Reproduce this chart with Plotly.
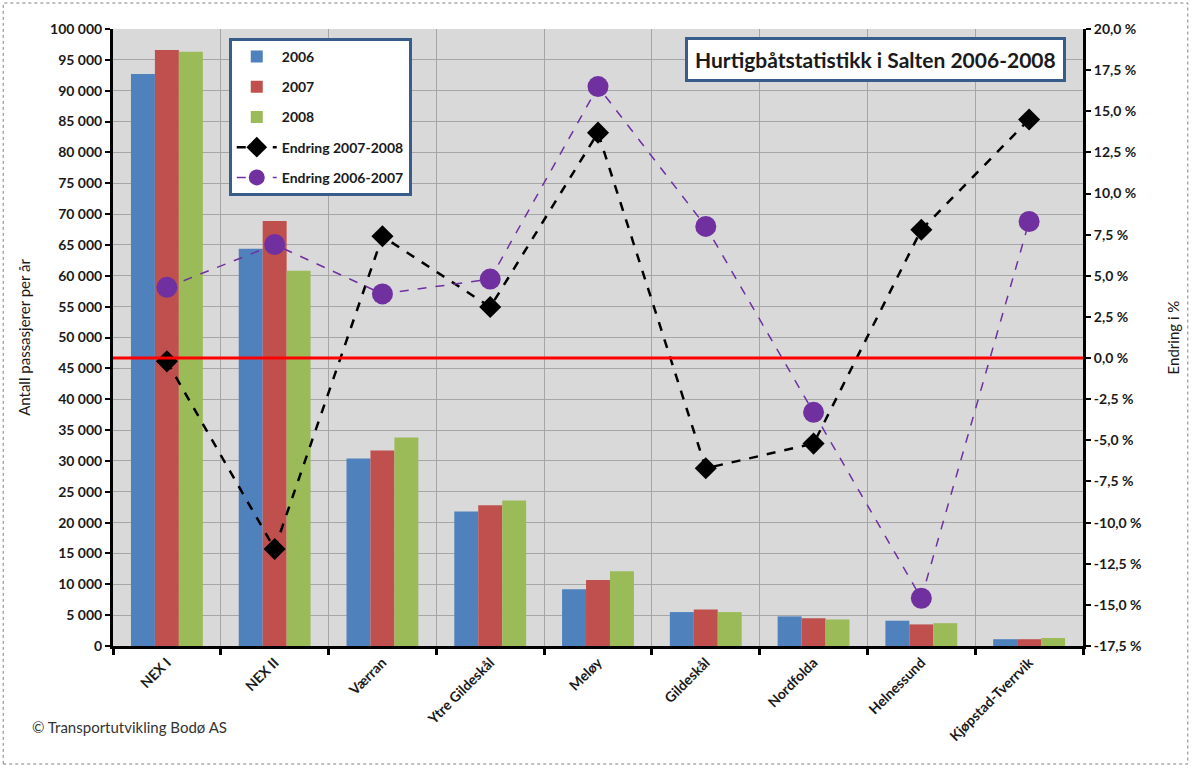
import plotly.graph_objects as go

# Ferry routes (categories)
routes = ["NEX I", "NEX II", "Værran", "Ytre Gildeskål", "Meløy",
          "Gildeskål", "Nordfolda", "Helnessund", "Kjøpstad-Tverrvik"]

# Passengers per year
pax_2006 = [92700, 64400, 30400, 21800, 9200, 5500, 4800, 4100, 1100]
pax_2007 = [96600, 68900, 31700, 22800, 10700, 5900, 4500, 3500, 1100]
pax_2008 = [96300, 60800, 33800, 23600, 12100, 5500, 4300, 3700, 1300]

# Percentage change
chg_0708 = [-0.2, -11.6, 7.4, 3.1, 13.7, -6.7, -5.2, 7.8, 14.5]
chg_0607 = [4.3, 6.9, 3.9, 4.8, 16.5, 8.0, -3.3, -14.6, 8.3]

# Axis ticks
left_ticks = list(range(0, 100001, 5000))
left_ticktext = [f"{v:,}".replace(",", " ") for v in left_ticks]
right_ticks = [-17.5 + 2.5 * i for i in range(16)]
right_ticktext = [f"{v:.1f}".replace(".", ",") + " %" for v in right_ticks]

FONT = "Lato"
DARK = "#1a1a1a"

fig = go.Figure()

bar_series = [("2006", pax_2006, "#4f81bd"),
              ("2007", pax_2007, "#c0504d"),
              ("2008", pax_2008, "#9bbb59")]
for name, vals, col in bar_series:
    fig.add_trace(go.Bar(x=routes, y=vals, name=name, marker_color=col,
                         marker_line_width=0, legendgroup=name))

fig.add_trace(go.Scatter(
    x=routes, y=chg_0708, name="Endring 2007-2008", yaxis="y2",
    mode="lines+markers", legendgroup="c0708",
    line=dict(color="black", width=2.5, dash="dash"),
    marker=dict(symbol="diamond", size=17, color="black")))

fig.add_trace(go.Scatter(
    x=routes, y=chg_0607, name="Endring 2006-2007", yaxis="y2",
    mode="lines+markers", legendgroup="c0607",
    line=dict(color="#7030a0", width=1.5, dash="dash"),
    marker=dict(symbol="circle", size=21, color="#7030a0")))

# Zero-change reference line
fig.add_shape(type="line", xref="paper", x0=0, x1=1, yref="y2", y0=0, y1=0,
              line=dict(color="#ff0000", width=3))

# Dashed frame around the whole chart
fig.add_shape(type="rect", xref="paper", yref="paper",
              x0=(3 - 113) / 972, x1=(1190 - 113) / 972,
              y0=(646 - 764) / 617, y1=(646 - 3) / 617,
              line=dict(color="#808080", width=1, dash="dot"), layer="below")

fig.add_annotation(
    text="<b>Hurtigbåtstatistikk i Salten 2006-2008</b>",
    xref="paper", yref="paper", x=(877 - 113) / 972, y=(646 - 59) / 617,
    xanchor="center", yanchor="middle",
    showarrow=False, font=dict(family=FONT, size=21, color=DARK),
    bgcolor="white", bordercolor="#385d8a", borderwidth=3, borderpad=7)

fig.add_annotation(
    text="© Transportutvikling Bodø AS",
    xref="paper", yref="paper", x=(30 - 113) / 972, y=(646 - 727) / 617,
    xanchor="left", yanchor="middle", showarrow=False,
    font=dict(family=FONT, size=15, color="#333333"))

fig.update_layout(
    width=1192, height=766,
    margin=dict(l=113, r=107, t=29, b=120),
    paper_bgcolor="white", plot_bgcolor="#d9d9d9",
    barmode="group", bargap=1 / 3, bargroupgap=0,
    font=dict(family=FONT, color=DARK),
    xaxis=dict(
        tickson="boundaries", ticks="outside", ticklen=6, tickwidth=3,
        tickcolor="black", showline=True, linecolor="black", linewidth=3,
        showgrid=True, gridcolor="#a6a6a6", gridwidth=1,
        tickangle=-45, tickfont=dict(family=FONT, size=14, weight="bold", color=DARK),
        range=[-0.5, 8.5]),
    yaxis=dict(
        range=[0, 100000], tickvals=left_ticks, ticktext=left_ticktext,
        ticks="outside", ticklen=5, tickwidth=2, tickcolor="black",
        showline=True, linecolor="black", linewidth=3,
        showgrid=True, gridcolor="#a6a6a6", gridwidth=1, zeroline=False,
        tickfont=dict(family=FONT, size=14, weight="bold", color=DARK),
        title=dict(text="Antall passasjerer per år", standoff=16,
                   font=dict(family=FONT, size=15, color=DARK))),
    yaxis2=dict(
        overlaying="y", side="right", range=[-17.5, 20],
        tickvals=right_ticks, ticktext=right_ticktext,
        ticks="outside", ticklen=5, tickwidth=2, tickcolor="black",
        showline=True, linecolor="black", linewidth=3,
        showgrid=False, zeroline=False,
        tickfont=dict(family=FONT, size=14, weight="bold", color=DARK),
        title=dict(text="Endring i %", standoff=28,
                   font=dict(family=FONT, size=15, color=DARK))),
    legend=dict(
        x=(229 - 113) / 972, y=(646 - 38) / 617, xanchor="left", yanchor="top",
        bgcolor="white", bordercolor="#385d8a", borderwidth=3,
        font=dict(family=FONT, size=14, weight="bold", color=DARK),
        tracegroupgap=9, itemwidth=40),
)

fig.write_html("out.html")
